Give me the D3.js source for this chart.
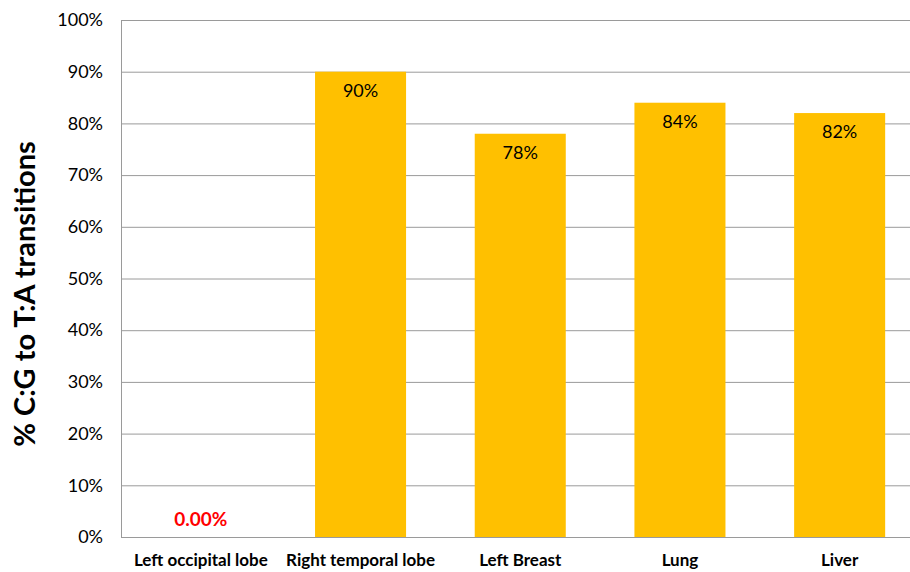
<!DOCTYPE html>
<html>
<head>
<meta charset="utf-8">
<script src="https://cdn.jsdelivr.net/npm/d3@7"></script>
<style>
  html, body { margin: 0; padding: 0; background: #fff; }
  svg { display: block; }
</style>
</head>
<body>
<svg id="chart" width="910" height="572"></svg>
<script>
// Share of C:G to T:A transitions per tissue sample
const categories = ["Left occipital lobe", "Right temporal lobe", "Left Breast", "Lung", "Liver"];
const values = [0, 90, 78, 84, 82];
const valueLabels = ["0.00%", "90%", "78%", "84%", "82%"];
const yTicks = [0, 10, 20, 30, 40, 50, 60, 70, 80, 90, 100];

const font = "Lato, 'Open Sans', sans-serif";
const svg = d3.select("#chart");

const plot = { left: 121, right: 919.5, top: 20, bottom: 537 };

const x = d3.scaleBand().domain(categories).range([plot.left, plot.right]).paddingInner(0.43).paddingOuter(0.215);
const y = d3.scaleLinear().domain([0, 100]).range([plot.bottom, plot.top]);

// horizontal gridlines
svg.append("g").selectAll("line").data(yTicks.filter(d => d > 0)).join("line")
  .attr("x1", plot.left).attr("x2", plot.right)
  .attr("y1", d => y(d) + 0.5).attr("y2", d => y(d) + 0.5)
  .attr("stroke", "#9a9a9a").attr("stroke-width", 1);

// y axis tick labels
const yAxis = d3.axisLeft(y).tickValues(yTicks).tickFormat(d => d + "%").tickSize(0).tickPadding(18);
const gy = svg.append("g").attr("transform", `translate(${plot.left},0)`).call(yAxis);
gy.select(".domain").remove();
gy.selectAll("text").attr("font-family", font).attr("font-size", 18).attr("fill", "#000");

// bars
svg.append("g").selectAll("rect").data(values).join("rect")
  .attr("x", (d, i) => x(categories[i]))
  .attr("width", x.bandwidth())
  .attr("y", d => y(d))
  .attr("height", d => y(0) - y(d))
  .attr("fill", "#FFC000");

// axis lines
svg.append("line").attr("x1", plot.left + 0.5).attr("x2", plot.left + 0.5).attr("y1", plot.top).attr("y2", plot.bottom)
  .attr("stroke", "#9a9a9a");
svg.append("line").attr("x1", plot.left).attr("x2", plot.right).attr("y1", plot.bottom + 0.5).attr("y2", plot.bottom + 0.5)
  .attr("stroke", "#9a9a9a");

// value labels
svg.append("g").selectAll("text").data(values).join("text")
  .attr("x", (d, i) => x(categories[i]) + x.bandwidth() / 2)
  .attr("y", d => d > 0 ? y(d) + 25 : y(0) - 11)
  .attr("text-anchor", "middle")
  .attr("font-family", font)
  .attr("font-size", d => d > 0 ? 18 : 19)
  .attr("font-weight", d => d > 0 ? "normal" : "bold")
  .attr("fill", d => d > 0 ? "#000" : "#FF0000")
  .text((d, i) => valueLabels[i]);

// category labels
const xAxis = d3.axisBottom(x).tickSize(0).tickPadding(17);
const gx = svg.append("g").attr("transform", `translate(0,${plot.bottom})`).call(xAxis);
gx.select(".domain").remove();
gx.selectAll("text").attr("font-family", font).attr("font-size", 17).attr("font-weight", "bold").attr("fill", "#000");

// y axis title
svg.append("text")
  .attr("transform", "translate(35,294) rotate(-90)")
  .attr("text-anchor", "middle")
  .attr("font-family", font)
  .attr("font-size", 29)
  .attr("font-weight", "bold")
  .attr("fill", "#000")
  .text("% C:G to T:A transitions");
</script>
</body>
</html>
